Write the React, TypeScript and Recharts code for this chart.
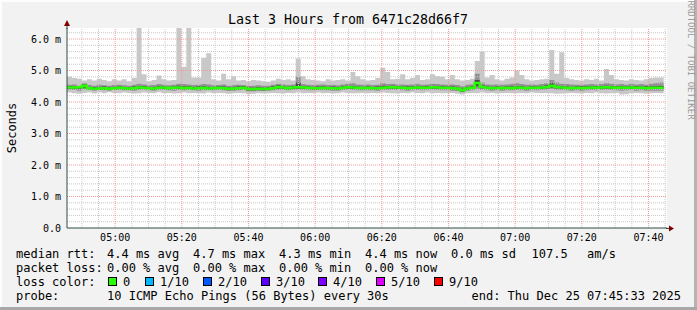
import { Area, CartesianGrid, ComposedChart, Line, ReferenceLine, XAxis, YAxis } from "recharts"

// time in minutes since midnight; graph covers 04:45:33 .. 07:45:33
const START = 4 * 60 + 45 + 33 / 60
const END = START + 180
const STEP = 179 / 120

const medianRtt = [
  4.46, 4.46, 4.47, 4.52, 4.44, 4.42, 4.43, 4.44, 4.42, 4.44,
  4.45, 4.44, 4.43, 4.44, 4.46, 4.45, 4.44, 4.43, 4.45, 4.46,
  4.44, 4.45, 4.46, 4.44, 4.45, 4.43, 4.44, 4.45, 4.43, 4.44,
  4.45, 4.44, 4.42, 4.43, 4.44, 4.45, 4.41, 4.41, 4.42, 4.41,
  4.42, 4.44, 4.48, 4.46, 4.44, 4.46, 4.47, 4.46, 4.45, 4.44,
  4.44, 4.45, 4.44, 4.44, 4.43, 4.45, 4.47, 4.46, 4.45, 4.44,
  4.45, 4.44, 4.44, 4.45, 4.46, 4.47, 4.46, 4.45, 4.44, 4.45,
  4.46, 4.45, 4.45, 4.47, 4.46, 4.45, 4.45, 4.44, 4.43, 4.37,
  4.43, 4.45, 4.6, 4.48, 4.45, 4.44, 4.45, 4.44, 4.45, 4.44,
  4.46, 4.45, 4.44, 4.45, 4.45, 4.46, 4.48, 4.52, 4.48, 4.46,
  4.45, 4.44, 4.45, 4.44, 4.45, 4.46, 4.45, 4.46, 4.47, 4.46,
  4.45, 4.46, 4.45, 4.46, 4.45, 4.45, 4.44, 4.45, 4.45, 4.45,
]

const maxRtt = [
  4.8, 4.76, 4.74, 4.68, 4.72, 4.68, 4.74, 4.7, 4.66, 4.72,
  4.68, 4.72, 4.66, 4.76, 6.5, 4.88, 4.66, 4.7, 4.84, 4.72,
  4.68, 4.7, 6.5, 5.12, 6.5, 4.78, 4.78, 5.4, 5.55, 4.72,
  4.68, 4.9, 4.72, 4.82, 4.68, 4.7, 4.66, 4.7, 4.68, 4.66,
  4.64, 4.68, 4.74, 4.7, 4.72, 4.68, 5.38, 4.82, 4.72, 4.7,
  4.68, 4.66, 4.72, 4.68, 4.7, 4.72, 4.68, 4.95, 4.82, 4.72,
  4.68, 4.7, 4.76, 5.09, 4.95, 4.72, 4.74, 4.88, 4.72, 4.76,
  4.86, 4.7, 4.72, 4.88, 4.82, 4.8, 4.72, 4.86, 4.72, 4.68,
  4.7, 4.74, 5.3, 5.6, 4.78, 4.86, 4.72, 4.68, 4.74, 4.78,
  5.0, 4.86, 4.72, 4.68, 4.7, 4.72, 4.74, 5.65, 4.9, 5.58,
  4.76, 4.72, 4.7, 4.68, 4.72, 4.7, 4.74, 4.68, 5.05, 4.86,
  4.72, 4.7, 4.68, 4.72, 4.7, 4.68, 4.72, 4.76, 4.78, 4.78,
]

const upperRtt = [
  4.55, 4.56, 4.52, 4.6, 4.54, 4.52, 4.55, 4.53, 4.52, 4.54,
  4.55, 4.53, 4.52, 4.55, 4.58, 4.56, 4.53, 4.54, 4.57, 4.55,
  4.53, 4.55, 4.58, 4.57, 4.56, 4.54, 4.55, 4.57, 4.56, 4.53,
  4.54, 4.56, 4.52, 4.54, 4.55, 4.54, 4.51, 4.52, 4.53, 4.52,
  4.52, 4.55, 4.58, 4.56, 4.54, 4.56, 4.8, 4.57, 4.55, 4.54,
  4.55, 4.56, 4.54, 4.55, 4.53, 4.56, 4.58, 4.6, 4.56, 4.55,
  4.56, 4.54, 4.55, 4.6, 4.57, 4.58, 4.56, 4.56, 4.55, 4.56,
  4.58, 4.55, 4.56, 4.58, 4.57, 4.56, 4.55, 4.56, 4.54, 4.5,
  4.55, 4.56, 4.9, 4.62, 4.56, 4.55, 4.56, 4.55, 4.56, 4.58,
  4.6, 4.57, 4.55, 4.56, 4.55, 4.57, 4.6, 4.7, 4.62, 4.58,
  4.57, 4.56, 4.55, 4.55, 4.56, 4.57, 4.56, 4.57, 4.6, 4.58,
  4.56, 4.57, 4.55, 4.58, 4.56, 4.57, 4.55, 4.58, 4.6, 4.62,
]

const innerHiRtt = [
  4.5, 4.49, 4.5, 4.56, 4.48, 4.47, 4.47, 4.49, 4.46, 4.48,
  4.49, 4.48, 4.47, 4.49, 4.5, 4.5, 4.48, 4.47, 4.5, 4.51,
  4.48, 4.49, 4.52, 4.49, 4.5, 4.47, 4.49, 4.5, 4.48, 4.48,
  4.5, 4.49, 4.46, 4.47, 4.49, 4.5, 4.46, 4.45, 4.47, 4.45,
  4.46, 4.49, 4.53, 4.5, 4.48, 4.5, 4.62, 4.5, 4.49, 4.48,
  4.49, 4.5, 4.48, 4.49, 4.47, 4.5, 4.52, 4.51, 4.49, 4.48,
  4.5, 4.48, 4.49, 4.52, 4.51, 4.52, 4.5, 4.49, 4.49, 4.5,
  4.51, 4.49, 4.5, 4.52, 4.5, 4.5, 4.49, 4.49, 4.47, 4.42,
  4.48, 4.5, 4.7, 4.53, 4.49, 4.48, 4.5, 4.48, 4.5, 4.49,
  4.51, 4.5, 4.48, 4.5, 4.49, 4.51, 4.53, 4.6, 4.52, 4.5,
  4.5, 4.48, 4.5, 4.49, 4.5, 4.51, 4.49, 4.51, 4.52, 4.5,
  4.49, 4.51, 4.49, 4.51, 4.5, 4.49, 4.49, 4.5, 4.5, 4.51,
]

const innerLoRtt = [
  4.42, 4.42, 4.42, 4.46, 4.4, 4.38, 4.39, 4.4, 4.38, 4.4,
  4.41, 4.4, 4.39, 4.4, 4.42, 4.41, 4.4, 4.39, 4.41, 4.42,
  4.4, 4.41, 4.42, 4.4, 4.41, 4.39, 4.4, 4.41, 4.39, 4.4,
  4.41, 4.4, 4.38, 4.39, 4.4, 4.41, 4.37, 4.37, 4.38, 4.37,
  4.38, 4.4, 4.43, 4.42, 4.4, 4.42, 4.42, 4.42, 4.41, 4.4,
  4.4, 4.41, 4.4, 4.4, 4.39, 4.41, 4.43, 4.42, 4.41, 4.4,
  4.41, 4.4, 4.4, 4.41, 4.42, 4.43, 4.42, 4.41, 4.4, 4.41,
  4.42, 4.41, 4.41, 4.43, 4.42, 4.41, 4.41, 4.4, 4.39, 4.33,
  4.39, 4.41, 4.5, 4.44, 4.41, 4.4, 4.41, 4.4, 4.41, 4.4,
  4.42, 4.41, 4.4, 4.41, 4.41, 4.42, 4.44, 4.46, 4.44, 4.42,
  4.41, 4.4, 4.41, 4.4, 4.41, 4.42, 4.41, 4.42, 4.43, 4.42,
  4.41, 4.42, 4.41, 4.42, 4.41, 4.41, 4.4, 4.41, 4.41, 4.41,
]

const lowerRtt = [
  4.39, 4.38, 4.36, 4.4, 4.38, 4.36, 4.38, 4.37, 4.36, 4.38,
  4.38, 4.37, 4.37, 4.36, 4.38, 4.39, 4.37, 4.36, 4.38, 4.38,
  4.37, 4.36, 4.38, 4.37, 4.38, 4.37, 4.36, 4.37, 4.38, 4.37,
  4.38, 4.37, 4.35, 4.36, 4.37, 4.38, 4.34, 4.34, 4.35, 4.35,
  4.36, 4.37, 4.39, 4.38, 4.37, 4.38, 4.39, 4.38, 4.37, 4.37,
  4.38, 4.37, 4.37, 4.36, 4.36, 4.38, 4.39, 4.38, 4.37, 4.37,
  4.37, 4.37, 4.36, 4.38, 4.38, 4.39, 4.38, 4.37, 4.36, 4.37,
  4.38, 4.37, 4.38, 4.39, 4.38, 4.37, 4.37, 4.36, 4.35, 4.31,
  4.36, 4.37, 4.42, 4.39, 4.37, 4.36, 4.37, 4.36, 4.37, 4.37,
  4.38, 4.37, 4.36, 4.37, 4.37, 4.38, 4.4, 4.42, 4.39, 4.38,
  4.37, 4.36, 4.37, 4.36, 4.37, 4.38, 4.37, 4.38, 4.39, 4.38,
  4.37, 4.36, 4.37, 4.38, 4.36, 4.37, 4.36, 4.36, 4.36, 4.36,
]

const minRtt = [
  4.3, 4.28, 4.26, 4.29, 4.3, 4.27, 4.3, 4.28, 4.31, 4.29,
  4.28, 4.3, 4.29, 4.27, 4.28, 4.3, 4.29, 4.28, 4.31, 4.28,
  4.29, 4.27, 4.28, 4.3, 4.28, 4.29, 4.28, 4.27, 4.3, 4.28,
  4.29, 4.28, 4.26, 4.28, 4.29, 4.28, 4.25, 4.26, 4.28, 4.27,
  4.28, 4.29, 4.28, 4.27, 4.29, 4.28, 4.3, 4.28, 4.29, 4.28,
  4.3, 4.28, 4.29, 4.27, 4.28, 4.3, 4.29, 4.28, 4.28, 4.29,
  4.28, 4.29, 4.28, 4.3, 4.29, 4.28, 4.27, 4.29, 4.28, 4.3,
  4.29, 4.28, 4.3, 4.28, 4.29, 4.28, 4.28, 4.29, 4.26, 4.24,
  4.28, 4.29, 4.28, 4.3, 4.28, 4.29, 4.27, 4.28, 4.29, 4.28,
  4.28, 4.29, 4.28, 4.3, 4.29, 4.28, 4.29, 4.28, 4.26, 4.27,
  4.28, 4.29, 4.28, 4.27, 4.29, 4.28, 4.3, 4.28, 4.27, 4.28,
  4.29, 4.24, 4.25, 4.28, 4.29, 4.28, 4.26, 4.28, 4.29, 4.28,
]

const timeTicks = [300, 320, 340, 360, 380, 400, 420, 440, 460]
const valueTicks = [0, 1, 2, 3, 4, 5, 6]

const rttStats = ["4.4 ms avg", "4.7 ms max", "4.3 ms min", "4.4 ms now", "0.0 ms sd"]
const lossStats = ["0.00 % avg", "0.00 % max", "0.00 % min", "0.00 % now"]
const amsValue = "107.5"
const amsUnit = "am/s"
const lossLabels = ["0", "1/10", "2/10", "3/10", "4/10", "5/10", "9/10"]
const lossColors = ["#26ff00", "#00b8ff", "#0059ff", "#5e00ff", "#7e00ff", "#dd00ff", "#ff0000"]
const probeText = "10 ICMP Echo Pings (56 Bytes) every 30s"
const endText = "end: Thu Dec 25 07:45:33 2025"
const title = "Last 3 Hours from 6471c28d66f7"

const data = medianRtt.map((m, i) => ({
  t: START + i * STEP,
  smoke: [minRtt[i], maxRtt[i]],
  core: [lowerRtt[i], upperRtt[i]],
  inner: [innerLoRtt[i], innerHiRtt[i]],
  median: m,
}))
// close the last step
data.push({ ...data[data.length - 1], t: START + 120 * STEP })

const minorTimes: number[] = []
const majorTimes: number[] = []
for (let m = 290; m <= 465; m += 5) (m % 20 === 0 ? majorTimes : minorTimes).push(m)
const minorValues: number[] = []
for (let k = 1; k <= 31; k++) if (k % 5 !== 0) minorValues.push(k / 5)

const hhmm = (m: number) =>
  `${String(Math.floor(m / 60)).padStart(2, "0")}:${String(Math.round(m % 60)).padStart(2, "0")}`

const mono = "'DejaVu Sans Mono', monospace"
const colX = [107, 193, 279, 365, 451]
const lossX = [123, 160, 218, 276, 333, 391, 449]

export default function App() {
  return (
    <div style={{ position: "absolute", left: 0, top: 0, width: 697, height: 310, background: "#f2f2f2", fontFamily: mono }}>
      <ComposedChart width={697} height={310} data={data} margin={{ top: 28, right: 30, bottom: 62, left: 7 }}>
        <CartesianGrid fill="#ffffff" horizontal={false} vertical={false} />
        <XAxis
          dataKey="t"
          type="number"
          domain={[START, END]}
          allowDataOverflow
          ticks={timeTicks}
          tickFormatter={hhmm}
          tickLine={false}
          tickSize={0}
          tickMargin={6}
          height={20}
          stroke="#2c4d43"
          tick={{ fill: "#000", fontSize: 10, fontFamily: mono }}
        />
        <YAxis
          domain={[0, 6.35]}
          allowDataOverflow
          ticks={valueTicks}
          tickFormatter={(v: number) => (v === 0 ? "0.0" : `${v.toFixed(1)} m`)}
          tickLine={false}
          tickSize={0}
          tickMargin={6}
          width={60}
          stroke="#2c4d43"
          tick={{ fill: "#000", fontSize: 10, fontFamily: mono }}
        />
        <Area dataKey="smoke" type="stepAfter" fill="#c8c8c8" fillOpacity={1} stroke="none" isAnimationActive={false} />
        <Area dataKey="core" type="stepAfter" fill="#929292" fillOpacity={1} stroke="none" isAnimationActive={false} />
        <Area dataKey="inner" type="stepAfter" fill="#4a4a4a" fillOpacity={1} stroke="none" isAnimationActive={false} />
        {minorTimes.map((m) => (
          <ReferenceLine key={`vx${m}`} x={m} stroke="#c8c8c8" strokeDasharray="1 1" />
        ))}
        {minorValues.map((v) => (
          <ReferenceLine key={`hy${v}`} y={v} stroke="#c8c8c8" strokeDasharray="1 1" />
        ))}
        {majorTimes.map((m) => (
          <ReferenceLine key={`VX${m}`} x={m} stroke="#f29a9a" strokeDasharray="1 1" />
        ))}
        {valueTicks.slice(1).map((v) => (
          <ReferenceLine key={`HY${v}`} y={v} stroke="#f29a9a" strokeDasharray="1 1" />
        ))}
        <Line dataKey="median" type="stepAfter" stroke="#26ff00" strokeWidth={2.5} dot={false} isAnimationActive={false} />
      </ComposedChart>

      <svg width={697} height={310} style={{ position: "absolute", left: 0, top: 0, pointerEvents: "none" }} fontFamily={mono}>
        {/* frame */}
        <rect x={0} y={0} width={697} height={2} fill="#fdfdfd" />
        <rect x={0} y={0} width={2} height={310} fill="#fdfdfd" />
        <rect x={694} y={0} width={3} height={310} fill="#b4b4b4" />
        <rect x={0} y={307} width={697} height={3} fill="#a8a8a8" />
        {/* axis arrows */}
        <line x1={67} y1={29} x2={67} y2={25} stroke="#2c4d43" />
        <polygon points="64,26 70,26 67,20" fill="#7f0000" />
        <line x1={666} y1={228.5} x2={670} y2={228.5} stroke="#2c4d43" />
        <polygon points="669,225.5 669,231.5 674,228.5" fill="#7f0000" />

        <text x={348} y={23.5} fontSize={13.3} textAnchor="middle" fill="#000">{title}</text>
        <text x={15.5} y={128} fontSize={12} textAnchor="middle" fill="#000" transform="rotate(-90 15.5 128)">Seconds</text>
        <text x={688} y={60} fontSize={9} textAnchor="middle" fill="#9a9a9a" transform="rotate(90 688 60)">RRDTOOL / TOBI OETIKER</text>

        <g fontSize={12} fill="#000" style={{ whiteSpace: "pre" }}>
          <text x={16} y={258}>median rtt:</text>
          {rttStats.map((s, i) => (
            <text key={s} x={colX[i]} y={258}>{s}</text>
          ))}
          <text x={531.5} y={258}>{amsValue}</text>
          <text x={587} y={258}>{amsUnit}</text>

          <text x={16} y={272}>packet loss:</text>
          {lossStats.map((s, i) => (
            <text key={s} x={colX[i]} y={272}>{s}</text>
          ))}

          <text x={16} y={286}>loss color:</text>
          {lossLabels.map((l, i) => (
            <g key={l}>
              <rect x={lossX[i] - 14.5} y={277.5} width={8} height={8} fill={lossColors[i]} stroke="#000" />
              <text x={lossX[i]} y={286}>{l}</text>
            </g>
          ))}

          <text x={16} y={300}>probe:</text>
          <text x={107} y={300}>{probeText}</text>
          <text x={681} y={300} textAnchor="end">{endText}</text>
        </g>
      </svg>
    </div>
  )
}
